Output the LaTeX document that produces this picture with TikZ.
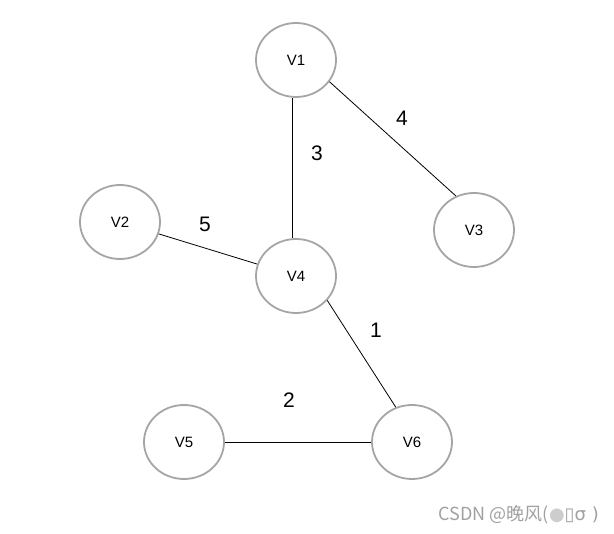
\documentclass[tikz,border=0pt]{standalone}
\usepackage{fontspec}
\setmainfont{Liberation Sans}
\newfontfamily\cjk{Noto Sans CJK SC}
\newfontfamily\dejavu{DejaVu Sans}
\usetikzlibrary{shapes.geometric}
\definecolor{ringgray}{RGB}{165,165,165}
\definecolor{wmgray}{RGB}{160,160,160}
\definecolor{dotgray}{RGB}{205,205,205}
\tikzset{
  vertex/.style={ellipse, draw=ringgray, line width=1.8pt, minimum width=80pt, minimum height=74pt, inner sep=0pt, font=\fontsize{15}{15}\selectfont},
  edge/.style={draw=black, line width=0.8pt},
  weight/.style={font=\fontsize{21}{21}\selectfont, inner sep=0pt},
}
\begin{document}
\begin{tikzpicture}[x=1pt,y=-1pt]
\useasboundingbox (0,0) rectangle (614,534);
\node[vertex] (v1) at (296,60) {V1};
\node[vertex] (v2) at (120,222) {V2};
\node[vertex] (v3) at (474,230) {V3};
\node[vertex] (v4) at (296,276) {V4};
\node[vertex] (v5) at (184,442) {V5};
\node[vertex] (v6) at (412,442) {V6};
\draw[edge] ([xshift=-4pt]v1.south) -- ([xshift=-4pt]v4.north);
\draw[edge] (v1.-33) -- (v3.118);
\draw[edge] (v2) -- (v4);
\draw[edge] (v4.-38) -- (v6.115);
\draw[edge] (v5) -- (v6);
\node[weight] (w3) at (317,153) {3};
\node[weight] (w4) at (402,118) {4};
\node[weight] (w5) at (205,224) {5};
\node[weight] (w1) at (376,330) {1};
\node[weight] (w2) at (289,400) {2};
\node[anchor=east, text=wmgray, font=\cjk\fontsize{18}{18}\selectfont, inner sep=0pt] (wm) at (599,515) {CSDN @晚风(\textcolor{dotgray}{\dejavu ●}\dejavu ▯σ )};
\end{tikzpicture}
\end{document}
